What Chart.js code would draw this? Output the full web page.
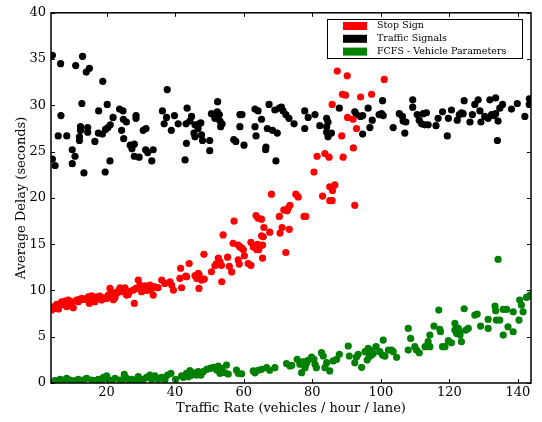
<!DOCTYPE html>
<html><head><meta charset="utf-8">
<script src="https://cdn.jsdelivr.net/npm/chart.js@4.4.0/dist/chart.umd.min.js"></script>
<style>html,body{margin:0;padding:0;background:#fff}</style>
</head><body>
<canvas id="c" width="542" height="422"></canvas>
<script>
const seriesNames = ["Stop Sign", "Traffic Signals", "FCFS - Vehicle Parameters"];
const seriesColors = ["#ff0000", "#000000", "#008000"];
const xTicks = [20, 40, 60, 80, 100, 120, 140];
const yTicks = [0, 5, 10, 15, 20, 25, 30, 35, 40];
const xLabel = "Traffic Rate (vehicles / hour / lane)";
const yLabel = "Average Delay (seconds)";

const stopX = [4.0,4.2,4.48,4.96,5.2,5.45,5.94,6.0,6.42,6.9,7.0,7.4,7.9,8.0,8.37,8.85,9.34,9.82,10.0,10.3,11.28,11.77,12.0,12.74,13.23,14.0,14.68,15.0,15.66,16.14,16.63,17.11,17.6,18.0,18.57,19.0,20.03,20.5,21.0,21.5,21.97,22.0,22.46,22.94,23.43,23.92,24.4,24.8,25.37,25.86,26.35,26.8,27.8,28.1,28.5,29.26,29.75,30.23,30.72,31.2,31.5,32.2,32.66,33.15,33.6,34.1,35.0,36.1,37.0,38.5,38.98,39.5,
41.4,41.9,41.6,43.35,43.1,44.1,45.8,46.3,46.75,46.95,47.7,48.5,47.0,50.6,51.6,53.6,48.4,52.6,53.1,53.5,52.1,55.8,58.4,58.7,61.3,62.1,56.5,55.3,60.2,54.0,57.2,56.9,58.4,59.4,59.9,58.9,62.1,63.3,64.0,64.7,65.5,64.4,63.8,62.8,65.5,72.3,65.2,65.7,67.6,70.6,73.3,65.9,71.2,63.6,64.2,65.2,70.4,77.6,78.1,73.5,73.0,71.7,72.7,68.1,75.2,75.9,83.0,85.1,85.8,85.1,86.6,85.9,92.4,80.5,81.4,83.7,84.9,89.0,92.0,88.6,92.9,90.3,91.9,85.8,88.8,89.7,94.1,97.3,87.3,90.2,101.0];
const stopY = [7.9,8.1,8.24,8.06,8.3,8.5,8.24,8.0,8.42,8.78,8.5,8.6,8.85,8.4,8.24,8.96,8.42,8.78,8.7,8.13,8.96,8.78,9.0,9.14,9.03,9.1,9.32,8.6,9.43,9.14,8.78,9.32,9.14,9.4,8.96,9.2,9.14,9.5,10.22,9.86,9.43,9.0,9.21,9.68,9.93,10.29,9.86,10.0,10.29,9.5,9.57,9.9,10.04,8.6,10.22,11.12,10.58,9.86,10.22,10.51,10.0,10.04,10.58,10.22,9.5,10.4,10.3,11.12,10.76,10.94,10.58,10.04,
11.3,10.29,12.4,11.48,11.55,12.9,11.6,11.3,11.84,10.22,11.12,11.23,11.7,12.02,12.67,10.94,13.9,13.5,13.1,12.7,12.9,12.6,13.3,12.85,12.9,12.7,12.0,13.6,13.75,16.0,17.5,15.1,14.9,14.6,14.4,14.7,15.2,14.7,14.97,14.8,14.9,14.4,14.4,14.7,13.5,14.1,15.9,15.8,16.3,16.2,16.6,16.8,16.8,18.1,17.8,17.7,18.0,18.0,18.0,19.2,18.9,18.7,18.6,20.4,20.4,20.1,20.2,19.7,19.7,21.2,21.4,20.8,19.2,22.8,24.5,24.8,24.4,24.4,25.4,26.7,27.5,28.7,28.5,30.1,31.2,31.1,30.9,31.2,33.7,33.2,32.8];

const signalX = [4.2,6.6,6.7,5.9,8.4,11,13,12.8,15,14.1,18.9,12.4,12.4,12.1,12.1,14.5,14.5,17.7,16.6,17.6,18.8,19.7,20.4,21.1,20.2,21.9,23.8,24.8,24.9,25.8,24.4,25,26.9,28.1,27.4,28.6,28.6,30.7,31.5,36.3,36.8,37.5,37.7,38.9,39.8,40.9,
4.2,5.0,10,10.8,10,13.4,19.6,21,28.1,29.5,31.4,32,33.6,33.2,42.9,
43.2,44.3,43.5,44.8,45.8,47.0,47.5,46.7,45.5,45.8,47.7,48.0,43.3,50.1,50.6,51.6,52.4,52.3,52.9,53.1,53.7,53.3,58.9,59.5,58.9,57.1,57.7,60.1,63.3,64.2,65.2,63.3,63.6,66.5,66.9,68.4,69.8,67.4,69.1,70.4,71.0,71.5,72.3,73.2,74.7,77.8,78.8,80.8,77.8,82.2,84.2,84.6,84.2,84.2,84.6,85.6,87.9,92.4,92.9,94.1,94.7,96.3,97.5,96.8,94.7,99.5,50.1,66.4,69.4,
100.5,100.2,100.7,103.6,105.4,106.3,106.5,107.3,107.0,109.3,109.3,110.6,111.2,111.9,112.8,113.8,112.4,113.3,116.1,116.7,118.0,119.7,120.6,119.4,122.3,122.9,123.5,124.0,124.3,126.0,126.7,127.4,128.4,128.9,129.2,130.3,131.3,131.8,132.3,133.5,133.5,133.0,134.2,134.7,135.5,134.0,138.1,139.8,142.0,143.3,143.3];
const signalY = [35.4,34.5,28.9,26.7,26.7,34.3,35.3,30.2,34,33.6,32.6,27.7,27.3,26.6,26.2,27.6,27.1,29.4,26.1,27,26.9,27.4,27.6,27.9,30.1,28.7,29.6,29.4,28.5,28.2,27.3,26.4,25.7,25.8,25.3,28.6,28.9,27.3,27.5,29.4,28,28.7,31.7,27.3,28.9,28,
24.2,23.5,25.2,24.5,23.7,22.7,22.8,24.0,24.5,24.4,25.2,24.9,25.2,24.0,24.1,
28.0,28.3,29.7,28.8,27.9,28.0,28.1,27.5,27.0,26.6,26.8,26.2,25.9,26.2,29.1,28.6,30.4,29.3,29.0,28.3,28.0,27.7,29.0,29.0,27.7,26.3,26.1,25.7,29.6,29.4,28.5,27.7,26.7,25.5,27.5,27.3,27.0,30.1,29.5,29.7,29.8,29.4,29.0,28.6,28.0,29.4,28.7,29.0,27.5,27.8,28.6,28.2,27.7,27.1,26.6,27.0,29.7,29.3,29.0,28.8,28.9,29.7,28.4,27.6,26.9,29.0,25.1,25.2,24.0,
30.5,29.1,28.9,27.6,29.1,28.8,28.3,28.2,27.0,30.6,29.8,29.0,28.4,28.0,27.9,27.9,29.1,29.2,27.8,28.6,29.3,28.6,29.5,26.7,28.4,29.0,29.2,29.1,30.5,28.2,29.0,30.1,30.6,29.4,28.2,28.8,28.6,30.6,29.0,30.8,29.1,28.9,28.3,29.7,30.1,26.2,29.6,30.2,28.8,30.7,30.1];

const fcfsX = [4.2,4.96,5.5,6.42,7.4,8.37,9.34,10.8,11.77,12.5,13.23,14.2,15.66,16.63,17.6,18.5,19.06,20.03,20.5,21.5,22.46,23.92,24.5,25.18,25.86,26.83,27.3,28.3,29.26,30.0,30.72,31.69,32.66,33.15,34.12,35.09,36.06,37.04,37.81,38.78,40.15,41.9,42.38,43.35,43.84,44.32,44.81,45.78,46.27,46.75,47.53,48.21,49.18,50.15,51.13,52.1,52.58,53.07,53.56,54.53,55.0,55.5,57.9,58.4,
59.4,62.8,63.3,64.2,65.2,66.7,67.6,69.1,72.5,73.5,74.0,75.6,76.4,76.9,77.4,77.9,78.3,78.8,79.8,80.5,80.8,81.2,82.7,83.2,83.7,84.2,85.1,86.1,87.1,87.9,90.5,90.8,92.4,92.9,93.4,
94.4,95.4,96.3,96.8,97.3,96.0,96.6,97.8,98.6,99.7,100.7,100.5,101.2,102.2,103.1,103.6,104.6,108.0,108.7,108.0,109.9,110.4,111.2,112.9,113.8,114.3,114.3,115.5,117.2,117.4,116.9,118.0,118.7,119.7,120.6,121.6,121.6,122.1,122.6,123.1,123.5,123.1,124.3,124.8,125.5,127.4,128.1,129.1,131.3,131.3,133.3,133.5,133.7,134.7,135.7,136.7,137.1,135.7,138.6,138.6,140.3,140.5,141.0,141.5,142.5,143.5,143.7,134.2];
const fcfsY = [0.1,0.25,0.15,0.39,0.32,0.5,0.32,0.25,0.39,0.1,0.32,0.5,0.32,0.25,0.39,0.2,0.61,0.76,0.39,0.25,0.5,0.32,0.15,0.93,0.5,0.25,0.39,0.32,0.68,0.1,0.39,0.61,0.86,0.39,0.76,0.39,0.61,0.32,0.86,1.04,0.39,0.76,0.61,1.04,0.68,1.33,0.86,1.11,0.86,1.22,0.86,1.22,1.47,1.58,1.69,1.4,1.83,1.04,1.58,1.11,1.94,0.97,1.4,1.04,
1.0,1.3,1.1,1.37,1.48,1.66,1.37,1.66,2.1,1.84,1.9,2.56,2.02,1.12,2.3,1.66,2.1,2.45,2.81,2.56,2.02,1.66,3.28,2.92,1.66,2.2,1.3,2.38,2.56,3.1,4.0,2.92,2.2,2.81,3.1,
1.69,3.38,3.74,3.56,3.02,2.48,2.84,3.2,3.92,3.38,4.64,3.02,2.91,3.56,3.56,3.38,2.77,5.9,4.82,3.56,3.92,3.56,3.27,3.92,4.46,5.18,3.92,6.15,5.8,5.54,7.88,3.92,3.92,4.57,4.35,6.44,5.72,5.36,5.9,5.18,4.46,5.54,8.02,5.72,5.9,7.34,7.45,6.15,6.87,5.9,8.31,7.81,6.8,6.8,7.95,7.95,6.08,5.18,5.54,7.7,6.8,8.96,8.42,7.7,9.25,9.5,9.4,13.35];

function pts(xs, ys) { return xs.map((x, i) => ({ x: x, y: ys[i] })); }
const seriesX = [stopX, signalX, fcfsX];
const seriesY = [stopY, signalY, fcfsY];

const FONT = "'DejaVu Serif', serif";

const framePlugin = {
  id: 'frame',
  afterDatasetsDraw(chart) {
    const ctx = chart.ctx, a = chart.chartArea;
    const xs = chart.scales.x, ys = chart.scales.y;
    ctx.save();
    ctx.strokeStyle = '#000';
    ctx.lineWidth = 1;
    const tl = 4;
    ctx.beginPath();
    xs.ticks.forEach(t => {
      const px = Math.round(xs.getPixelForValue(t.value)) + 0.5;
      ctx.moveTo(px, a.bottom); ctx.lineTo(px, a.bottom - tl);
      ctx.moveTo(px, a.top); ctx.lineTo(px, a.top + tl);
    });
    ys.ticks.forEach(t => {
      const py = Math.round(ys.getPixelForValue(t.value)) + 0.5;
      ctx.moveTo(a.left, py); ctx.lineTo(a.left + tl, py);
      ctx.moveTo(a.right, py); ctx.lineTo(a.right - tl, py);
    });
    ctx.stroke();
    ctx.lineWidth = 1.5;
    ctx.strokeRect(a.left, a.top, a.right - a.left, a.bottom - a.top);
    ctx.restore();
  },
  afterDraw(chart) {
    const ctx = chart.ctx;
    ctx.save();
    const bx = 327.5, by = 19.5, bw = 195, bh = 39;
    ctx.fillStyle = '#fff';
    ctx.fillRect(bx, by, bw, bh);
    ctx.strokeStyle = '#000';
    ctx.lineWidth = 1;
    ctx.strokeRect(bx, by, bw, bh);
    ctx.font = "9.5px " + FONT;
    ctx.textBaseline = 'middle';
    chart.data.datasets.forEach((ds, i) => {
      const cy = 26 + i * 12.8;
      ctx.fillStyle = ds.backgroundColor;
      ctx.fillRect(343, cy - 4, 24, 8);
      ctx.fillStyle = '#000';
      ctx.fillText(ds.label, 377, cy);
    });
    ctx.restore();
  }
};

new Chart(document.getElementById('c'), {
  type: 'scatter',
  data: {
    datasets: seriesNames.map((n, i) => ({
      label: n,
      data: pts(seriesX[i], seriesY[i]),
      backgroundColor: seriesColors[i],
      borderWidth: 0,
      pointRadius: 3.6,
      pointHoverRadius: 3.6,
      clip: 0
    }))
  },
  options: {
    responsive: false,
    devicePixelRatio: 1,
    animation: false,
    layout: { padding: { top: 12, right: 11, left: 0, bottom: 0 } },
    plugins: { legend: { display: false }, tooltip: { enabled: false } },
    scales: {
      x: {
        type: 'linear', min: 3.8, max: 143.8,
        afterBuildTicks: s => { s.ticks = xTicks.map(v => ({ value: v })); },
        afterFit: s => { s.height = 39; },
        grid: { display: false, drawTicks: false },
        border: { display: false },
        ticks: { padding: 2, color: '#000', font: { family: FONT, size: 13 } },
        title: { display: true, text: xLabel, color: '#000', font: { family: FONT, size: 13 }, padding: { top: 0, bottom: 6 } }
      },
      y: {
        type: 'linear', min: 0, max: 40,
        afterBuildTicks: s => { s.ticks = yTicks.map(v => ({ value: v })); },
        afterFit: s => { s.width = 51; },
        grid: { display: false, drawTicks: false },
        border: { display: false },
        ticks: { padding: 5, color: '#000', font: { family: FONT, size: 13 } },
        title: { display: true, text: yLabel, color: '#000', font: { family: FONT, size: 13 }, padding: { top: 14, bottom: 0 } }
      }
    }
  },
  plugins: [framePlugin]
});
</script>
</body></html>
